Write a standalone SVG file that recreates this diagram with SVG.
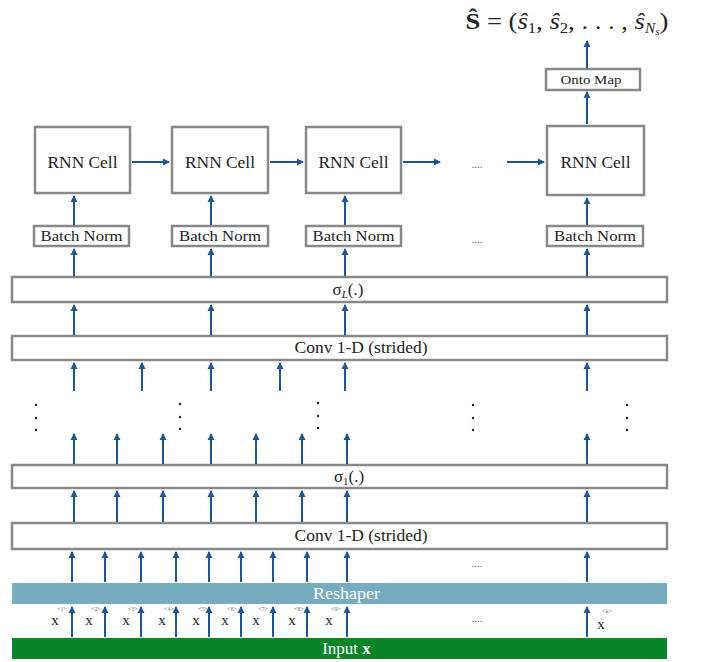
<svg xmlns="http://www.w3.org/2000/svg" width="701" height="662" viewBox="0 0 701 662">
<defs>
<marker id="ah" markerWidth="8" markerHeight="8" refX="6" refY="4" orient="auto" markerUnits="userSpaceOnUse">
<path d="M0,0.5 L7,4 L0,7.5 Z" fill="#1f5591"/>
</marker>
<style>
.box{fill:#fff;stroke:#88888c;stroke-width:2.5}
.t{font-family:"Liberation Serif","DejaVu Serif",serif;fill:#222;text-anchor:middle}
.c line,.c path{stroke:#1f5591;stroke-width:2;fill:none;marker-end:url(#ah)}
.dot{fill:#222}
.sup{font-family:"Liberation Serif",serif;font-size:6px;fill:#777;text-anchor:middle}
.xl{font-family:"Liberation Serif",serif;font-size:15px;fill:#222;text-anchor:middle}
.ell{font-family:"Liberation Serif",serif;font-size:11px;fill:#555;text-anchor:middle}
</style>
</defs>
<rect width="701" height="662" fill="#fff"/>

<g id="output">
<text class="t" x="567" y="29" font-size="24" textLength="203" lengthAdjust="spacingAndGlyphs"><tspan font-weight="bold">Ŝ</tspan> = (<tspan font-style="italic">ŝ</tspan><tspan font-size="15" dy="4">1</tspan><tspan dy="-4">, </tspan><tspan font-style="italic">ŝ</tspan><tspan font-size="15" dy="4">2</tspan><tspan dy="-4">, . . . , </tspan><tspan font-style="italic">ŝ</tspan><tspan font-size="14" font-style="italic" dy="4">N</tspan><tspan font-size="10" font-style="italic" dy="2">s</tspan><tspan dy="-6">)</tspan></text>
</g>

<g id="onto">
<rect class="box" x="546" y="69" width="94" height="21"/>
<text class="t" x="591" y="84" font-size="12" textLength="61" lengthAdjust="spacingAndGlyphs">Onto Map</text>
</g>

<g id="rnn1"><rect class="box" x="35" y="127" width="95" height="66"/><text class="t" x="82.5" y="168" font-size="17.5" textLength="70" lengthAdjust="spacingAndGlyphs">RNN Cell</text></g>
<g id="rnn2"><rect class="box" x="172" y="127" width="96" height="66"/><text class="t" x="220" y="168" font-size="17.5" textLength="70" lengthAdjust="spacingAndGlyphs">RNN Cell</text></g>
<g id="rnn3"><rect class="box" x="306" y="127" width="95" height="66"/><text class="t" x="353.5" y="168" font-size="17.5" textLength="70" lengthAdjust="spacingAndGlyphs">RNN Cell</text></g>
<g id="rnn4"><rect class="box" x="547" y="126" width="97" height="69"/><text class="t" x="595.5" y="168" font-size="17.5" textLength="70" lengthAdjust="spacingAndGlyphs">RNN Cell</text></g>

<g id="bn1"><rect class="box" x="34" y="226" width="95" height="20"/><text class="t" x="81.5" y="241" font-size="15" textLength="82" lengthAdjust="spacingAndGlyphs">Batch Norm</text></g>
<g id="bn2"><rect class="box" x="172" y="226" width="96" height="20"/><text class="t" x="220" y="241" font-size="15" textLength="82" lengthAdjust="spacingAndGlyphs">Batch Norm</text></g>
<g id="bn3"><rect class="box" x="306" y="226" width="95" height="20"/><text class="t" x="353.5" y="241" font-size="15" textLength="82" lengthAdjust="spacingAndGlyphs">Batch Norm</text></g>
<g id="bn4"><rect class="box" x="547" y="226" width="96" height="20"/><text class="t" x="595" y="241" font-size="15" textLength="82" lengthAdjust="spacingAndGlyphs">Batch Norm</text></g>

<g id="sigmaL"><rect class="box" x="12" y="277" width="655" height="25"/><text class="t" x="348" y="295" font-size="17">σ<tspan font-size="11" font-style="italic" dy="3">L</tspan><tspan dy="-3">(.)</tspan></text></g>
<g id="conv2"><rect class="box" x="12" y="336" width="655" height="24"/><text class="t" x="361" y="353" font-size="17" textLength="133" lengthAdjust="spacingAndGlyphs">Conv 1-D (strided)</text></g>
<g id="sigma1"><rect class="box" x="12" y="465" width="655" height="23"/><text class="t" x="349" y="482" font-size="17">σ<tspan font-size="11" dy="3">1</tspan><tspan dy="-3">(.)</tspan></text></g>
<g id="conv1"><rect class="box" x="12" y="523" width="655" height="26"/><text class="t" x="361" y="541" font-size="17" textLength="133" lengthAdjust="spacingAndGlyphs">Conv 1-D (strided)</text></g>
<g id="reshaper"><rect x="12" y="583" width="655" height="21" fill="#77acc0"/><text class="t" x="346.5" y="599" font-size="17" textLength="67" lengthAdjust="spacingAndGlyphs" style="fill:#fff">Reshaper</text></g>
<g id="input"><rect x="12" y="638" width="655" height="21" fill="#0a8429"/><text class="t" x="346.5" y="654" font-size="17" style="fill:#fff">Input <tspan font-weight="bold">x</tspan></text></g>

<g id="labels">
<text class="xl" x="55" y="625">x</text><text class="sup" x="62" y="611">&lt;1&gt;</text>
<text class="xl" x="89" y="625">x</text><text class="sup" x="96" y="611">&lt;2&gt;</text>
<text class="xl" x="126" y="625">x</text><text class="sup" x="133" y="611">&lt;3&gt;</text>
<text class="xl" x="162" y="625">x</text><text class="sup" x="169" y="611">&lt;4&gt;</text>
<text class="xl" x="196" y="625">x</text><text class="sup" x="203" y="611">&lt;5&gt;</text>
<text class="xl" x="225" y="625">x</text><text class="sup" x="232" y="611">&lt;6&gt;</text>
<text class="xl" x="256" y="625">x</text><text class="sup" x="263" y="611">&lt;7&gt;</text>
<text class="xl" x="292" y="625">x</text><text class="sup" x="299" y="611">&lt;8&gt;</text>
<text class="xl" x="329" y="625">x</text><text class="sup" x="336" y="611">&lt;9&gt;</text>
<text class="xl" x="601" y="629" font-size="14">x</text><text class="sup" x="607" y="613">&lt;k&gt;</text>
<text class="ell" x="477" y="168">....</text>
<text class="ell" x="477" y="243">....</text>
<text class="ell" x="477" y="567">....</text>
<text class="ell" x="477" y="622">....</text>
</g>

<g id="dots">
<circle class="dot" cx="36" cy="405" r="1.2"/><circle class="dot" cx="36" cy="418" r="1.2"/><circle class="dot" cx="36" cy="430" r="1.2"/>
<circle class="dot" cx="180" cy="404" r="1.2"/><circle class="dot" cx="180" cy="417" r="1.2"/><circle class="dot" cx="180" cy="429" r="1.2"/>
<circle class="dot" cx="318" cy="403" r="1.2"/><circle class="dot" cx="318" cy="416" r="1.2"/><circle class="dot" cx="318" cy="428" r="1.2"/>
<circle class="dot" cx="473" cy="405" r="1.2"/><circle class="dot" cx="473" cy="418" r="1.2"/><circle class="dot" cx="473" cy="430" r="1.2"/>
<circle class="dot" cx="627" cy="405" r="1.2"/><circle class="dot" cx="627" cy="418" r="1.2"/><circle class="dot" cx="627" cy="430" r="1.2"/>
</g>

<g id="connectors" class="c">
<line x1="587" y1="68" x2="587" y2="41"/>
<line x1="587" y1="124" x2="587" y2="92"/>
<line x1="132" y1="162" x2="169" y2="162"/>
<line x1="270" y1="162" x2="303" y2="162"/>
<line x1="403" y1="162" x2="440" y2="162"/>
<line x1="507" y1="162" x2="544" y2="162"/>
<line x1="74" y1="225" x2="74" y2="196"/>
<line x1="211" y1="225" x2="211" y2="196"/>
<line x1="345" y1="225" x2="345" y2="196"/>
<line x1="587" y1="225" x2="587" y2="198"/>
<line x1="74" y1="276" x2="74" y2="249"/>
<line x1="211" y1="276" x2="211" y2="249"/>
<line x1="345" y1="276" x2="345" y2="249"/>
<line x1="587" y1="276" x2="587" y2="249"/>
<line x1="74" y1="335" x2="74" y2="305"/>
<line x1="211" y1="335" x2="211" y2="305"/>
<line x1="345" y1="335" x2="345" y2="305"/>
<line x1="587" y1="335" x2="587" y2="305"/>
<line x1="74" y1="391" x2="74" y2="363"/>
<line x1="142" y1="391" x2="142" y2="363"/>
<line x1="211" y1="391" x2="211" y2="363"/>
<line x1="280" y1="391" x2="280" y2="363"/>
<line x1="345" y1="391" x2="345" y2="363"/>
<line x1="587" y1="391" x2="587" y2="363"/>
<line x1="74" y1="464" x2="74" y2="434"/>
<line x1="117" y1="464" x2="117" y2="434"/>
<line x1="163" y1="464" x2="163" y2="434"/>
<line x1="211" y1="464" x2="211" y2="434"/>
<line x1="256" y1="464" x2="256" y2="434"/>
<line x1="302" y1="464" x2="302" y2="434"/>
<line x1="347" y1="464" x2="347" y2="434"/>
<line x1="587" y1="464" x2="587" y2="434"/>
<line x1="74" y1="522" x2="74" y2="491"/>
<line x1="117" y1="522" x2="117" y2="491"/>
<line x1="163" y1="522" x2="163" y2="491"/>
<line x1="211" y1="522" x2="211" y2="491"/>
<line x1="256" y1="522" x2="256" y2="491"/>
<line x1="302" y1="522" x2="302" y2="491"/>
<line x1="347" y1="522" x2="347" y2="491"/>
<line x1="587" y1="522" x2="587" y2="491"/>
<line x1="72" y1="582" x2="72" y2="552"/>
<line x1="105" y1="582" x2="105" y2="552"/>
<line x1="141" y1="582" x2="141" y2="552"/>
<line x1="176" y1="582" x2="176" y2="552"/>
<line x1="209" y1="582" x2="209" y2="552"/>
<line x1="241" y1="582" x2="241" y2="552"/>
<line x1="273" y1="582" x2="273" y2="552"/>
<line x1="307" y1="582" x2="307" y2="552"/>
<line x1="347" y1="582" x2="347" y2="552"/>
<line x1="587" y1="582" x2="587" y2="552"/>
<line x1="72" y1="637" x2="72" y2="607"/>
<line x1="105" y1="637" x2="105" y2="607"/>
<line x1="141" y1="637" x2="141" y2="607"/>
<line x1="176" y1="637" x2="176" y2="607"/>
<line x1="209" y1="637" x2="209" y2="607"/>
<line x1="241" y1="637" x2="241" y2="607"/>
<line x1="273" y1="637" x2="273" y2="607"/>
<line x1="307" y1="637" x2="307" y2="607"/>
<line x1="347" y1="637" x2="347" y2="607"/>
<line x1="587" y1="637" x2="587" y2="607"/>
</g>
</svg>
